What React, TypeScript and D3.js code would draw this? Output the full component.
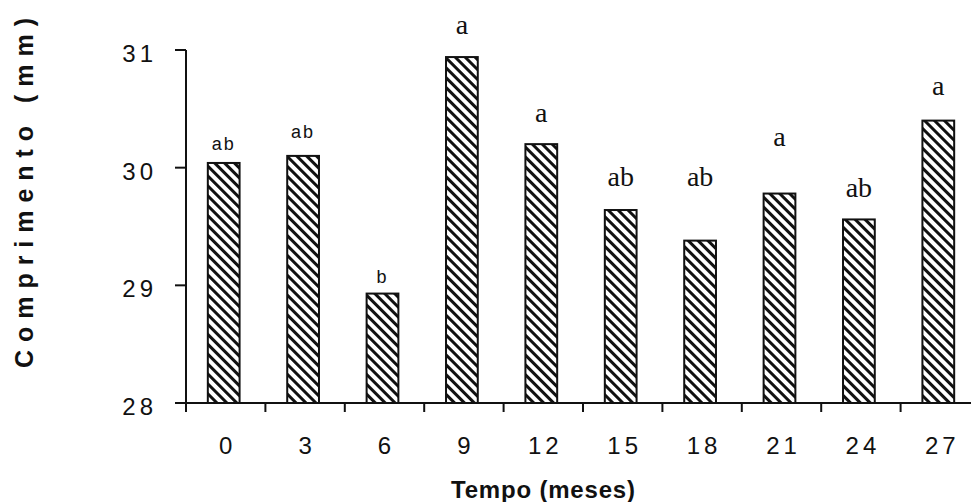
import * as d3 from 'd3';

const months = ['0', '3', '6', '9', '12', '15', '18', '21', '24', '27'];
const lengths = [30.04, 30.1, 28.93, 30.94, 30.2, 29.64, 29.38, 29.78, 29.56, 30.4];
const letters = ['ab', 'ab', 'b', 'a', 'a', 'ab', 'ab', 'a', 'ab', 'a'];
// where each letter sits in mm
const letterAt = [30.15, 30.25, 29.02, 31.14, 30.39, 29.84, 29.84, 30.18, 29.75, 30.62];
// these three letters were typeset in a sans face, the rest in a serif one
const sansLetters = ['0', '3', '6'];
const yTicks = [28, 29, 30, 31];

const W = 971;
const H = 502;

export default function App() {
  const x = d3.scaleBand().domain(months).range([186, 980]).padding(0);
  const y = d3.scaleLinear().domain([28, 31]).range([403, 50]);
  const bw = x.bandwidth() * 0.4;

  return (
    <svg
      width={W}
      height={H}
      style={{ position: 'fixed', left: 0, top: 0, background: '#fff' }}
      fontFamily="'Liberation Sans', Arial, sans-serif"
    >
      <defs>
        <pattern
          id="hatch"
          patternUnits="userSpaceOnUse"
          width={7}
          height={7}
          patternTransform="rotate(-45)"
        >
          <rect x={0} y={0} width={7} height={7} fill="#fff" />
          <rect x={0} y={0} width={3} height={7} fill="#111" />
        </pattern>
      </defs>

      {months.map((m, i) => {
        const cx = x(m)! + x.bandwidth() / 2 - 2;
        return (
          <rect
            key={m}
            x={cx - bw / 2}
            y={y(lengths[i])}
            width={bw}
            height={y(28) - y(lengths[i])}
            fill="url(#hatch)"
            stroke="#111"
            strokeWidth={2}
          />
        );
      })}

      {/* y axis */}
      <line x1={186} x2={186} y1={y(31)} y2={y(28)} stroke="#111" strokeWidth={2} />
      {yTicks.map((t) => (
        <g key={t}>
          <line x1={175} x2={186} y1={y(t)} y2={y(t)} stroke="#111" strokeWidth={2} />
          <text
            x={157}
            y={y(t) + 12}
            textAnchor="end"
            fontSize={24}
            letterSpacing={4}
            fill="#111"
          >
            {t}
          </text>
        </g>
      ))}

      {/* x axis */}
      <line x1={186} x2={W} y1={y(28)} y2={y(28)} stroke="#111" strokeWidth={2} />
      {months.map((m) => (
        <g key={m}>
          <line x1={x(m)!} x2={x(m)!} y1={y(28)} y2={y(28) + 9} stroke="#111" strokeWidth={2} />
          <text
            x={x(m)! + x.bandwidth() / 2 + 2}
            y={454}
            textAnchor="middle"
            fontSize={24}
            letterSpacing={4}
            fill="#111"
          >
            {m}
          </text>
        </g>
      ))}

      {/* significance letters */}
      {months.map((m, i) => {
        const sans = sansLetters.includes(m);
        return (
          <text
            key={m}
            x={x(m)! + x.bandwidth() / 2 - 2}
            y={y(letterAt[i])}
            textAnchor="middle"
            fontSize={sans ? 18 : 28}
            letterSpacing={sans ? 2 : 0}
            fontFamily={sans ? "'Liberation Sans', Arial, sans-serif" : "'Liberation Serif', 'Times New Roman', serif"}
            fill="#111"
          >
            {letters[i]}
          </text>
        );
      })}

      <text
        x={543}
        y={498}
        textAnchor="middle"
        fontSize={24}
        fontWeight="bold"
        textLength={184}
        lengthAdjust="spacing"
        fill="#111"
      >
        Tempo (meses)
      </text>
      <text
        transform={`translate(33,193) rotate(-90)`}
        textAnchor="middle"
        fontSize={25}
        fontWeight="bold"
        textLength={350}
        lengthAdjust="spacing"
        fill="#111"
      >
        Comprimento (mm)
      </text>
    </svg>
  );
}
